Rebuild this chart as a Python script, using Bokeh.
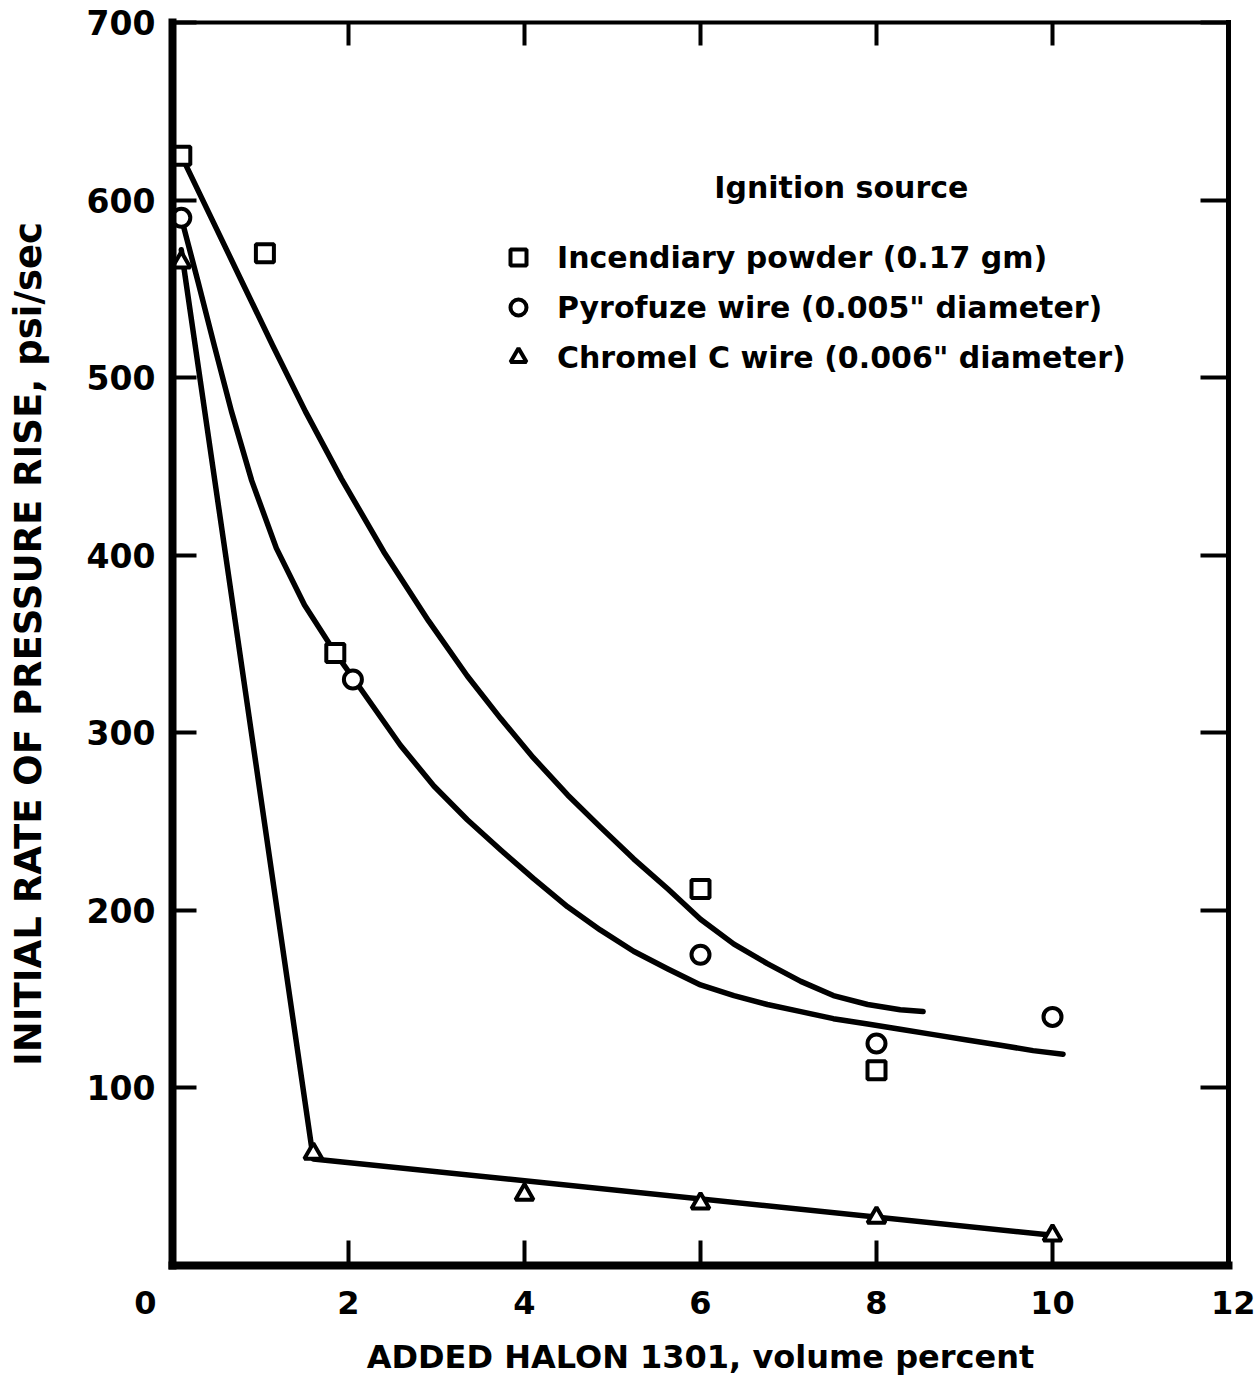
from bokeh.plotting import figure
from bokeh.models import Range1d, LinearAxis, FixedTicker, Legend, LegendItem, Label
from bokeh.embed import file_html
from bokeh.resources import INLINE

FONT = "DejaVu Sans"

# ---- data ----
x_ticks = [0, 2, 4, 6, 8, 10, 12]
x_tick_labels = ["0", "2", "4", "6", "8", "10", "12"]
y_ticks = [100, 200, 300, 400, 500, 600, 700]
frame_x_ticks = [2, 4, 6, 8, 10]

powder_x = [0.1, 1.05, 1.85, 6.0, 8.0]
powder_y = [625, 570, 345, 212, 110]
pyro_x = [0.1, 2.05, 6.0, 8.0, 10.0]
pyro_y = [590, 330, 175, 125, 140]
chromel_x = [0.1, 1.6, 4.0, 6.0, 8.0, 10.0]
chromel_y = [565, 63, 40, 35, 27, 17]

# hand-drawn fitted curves
powder_fit_x = [0.1, 0.45, 0.77, 1.14, 1.51, 1.92, 2.4, 2.91, 3.35, 3.73, 4.1, 4.49,
                4.86, 5.24, 5.63, 6.0, 6.38, 6.76, 7.14, 7.51, 7.9, 8.27, 8.53]
powder_fit_y = [625, 589, 556, 518, 481, 443, 402, 363, 332, 308, 286, 265,
                247, 229, 212, 195, 181, 170, 160, 152, 147, 144, 143]
pyro_fit_x = [0.1, 0.29, 0.47, 0.67, 0.9, 1.18, 1.5, 1.85, 2.05, 2.59, 2.97, 3.35,
              3.73, 4.1, 4.49, 4.86, 5.24, 5.63, 6.0, 6.38, 6.76, 7.14, 7.51, 7.9,
              8.27, 8.65, 9.03, 9.41, 9.78, 10.12]
pyro_fit_y = [590, 554, 519, 481, 442, 404, 372, 345, 331, 293, 270, 251,
              234, 218, 202, 189, 177, 167, 158, 152, 147, 143, 139, 136,
              133, 130, 127, 124, 121, 119]
chromel_fit_x = [0.1, 1.6, 10.0]
chromel_fit_y = [572, 60, 17]

legend_title = "Ignition source"
labels = ["Incendiary powder (0.17 gm)",
          "Pyrofuze wire (0.005\" diameter)",
          "Chromel C wire (0.006\" diameter)"]

# ---- figure ----
p = figure(width=1255, height=1381, output_backend="svg", toolbar_location=None,
           x_range=Range1d(0, 12), y_range=Range1d(0, 700),
           min_border_left=172, min_border_right=27, min_border_top=22, min_border_bottom=116,
           x_axis_location=None, y_axis_location=None)
p.outline_line_color = None
p.grid.visible = False
p.background_fill_color = "white"
p.border_fill_color = "white"


def style_axis(ax, lw, tick_in, show_labels, size="32px"):
    ax.axis_line_width = lw
    ax.axis_line_color = "black"
    ax.axis_line_cap = "square"
    ax.major_tick_in = tick_in
    ax.major_tick_out = 0
    ax.major_tick_line_width = 4
    ax.major_tick_line_color = "black"
    ax.minor_tick_line_color = None
    ax.major_label_text_font = FONT
    ax.major_label_text_font_style = "bold"
    ax.major_label_text_font_size = size
    if show_labels:
        ax.major_label_text_color = "black"
    else:
        ax.major_label_text_color = None
        ax.major_label_standoff = 0


bottom = LinearAxis(ticker=FixedTicker(ticks=x_ticks))
style_axis(bottom, 8, 25, True)
# the original lettering sets "0" left of the corner and "12" right of it
overrides = {t: s for t, s in zip(x_ticks, x_tick_labels)}
overrides[x_ticks[0]] = x_tick_labels[0] + "\u2003\u2002\u2009"
overrides[x_ticks[-1]] = "\u2002" + x_tick_labels[-1]
bottom.major_label_overrides = overrides
bottom.major_label_standoff = 18
bottom.axis_label = "ADDED HALON 1301, volume percent"
bottom.axis_label_text_font = FONT
bottom.axis_label_text_font_style = "bold"
bottom.axis_label_text_font_size = "32px"
bottom.axis_label_text_color = "black"
bottom.axis_label_standoff = 13
p.add_layout(bottom, "below")

left = LinearAxis(ticker=FixedTicker(ticks=y_ticks))
style_axis(left, 8, 24, True, "33px")
left.major_label_standoff = 17
left.axis_label = "INITIAL RATE OF PRESSURE RISE, psi/sec"
left.axis_label_text_font = FONT
left.axis_label_text_font_style = "bold"
left.axis_label_text_font_size = "37px"
left.axis_label_text_color = "black"
left.axis_label_standoff = 34
p.add_layout(left, "left")

top = LinearAxis(ticker=FixedTicker(ticks=frame_x_ticks))
style_axis(top, 4, 23, False, "2px")
p.add_layout(top, "above")

right = LinearAxis(ticker=FixedTicker(ticks=y_ticks))
style_axis(right, 5, 28, False, "2px")
p.add_layout(right, "right")

# ---- curves ----
for fx, fy in [(powder_fit_x, powder_fit_y), (pyro_fit_x, pyro_fit_y), (chromel_fit_x, chromel_fit_y)]:
    p.line(fx, fy, line_width=5.5, line_color="black", line_join="round", line_cap="round")

# ---- data points ----
r_sq = p.scatter(powder_x, powder_y, marker="square", size=18, line_width=4,
                 line_color="black", fill_color="white")
r_ci = p.scatter(pyro_x, pyro_y, marker="circle", size=18, line_width=4,
                 line_color="black", fill_color="white")
r_tr = p.scatter(chromel_x, chromel_y, marker="triangle", size=18, line_width=4,
                 line_color="black", fill_color="white")

# ---- legend ----
legend = Legend(items=[LegendItem(label=labels[0], renderers=[r_sq]),
                       LegendItem(label=labels[1], renderers=[r_ci]),
                       LegendItem(label=labels[2], renderers=[r_tr])],
                location=(326, 888), padding=0, margin=0, spacing=10,
                glyph_width=40, glyph_height=40, label_height=40, label_standoff=19,
                border_line_color=None, background_fill_alpha=0,
                label_text_font=FONT, label_text_font_style="bold",
                label_text_font_size="30px", label_text_color="black")
p.add_layout(legend, "center")

p.add_layout(Label(x=7.6, y=607, text=legend_title, text_align="center",
                   text_baseline="middle", text_font=FONT, text_font_style="bold",
                   text_font_size="30px", text_color="black"))

open("out.html", "w").write(file_html(p, INLINE))
